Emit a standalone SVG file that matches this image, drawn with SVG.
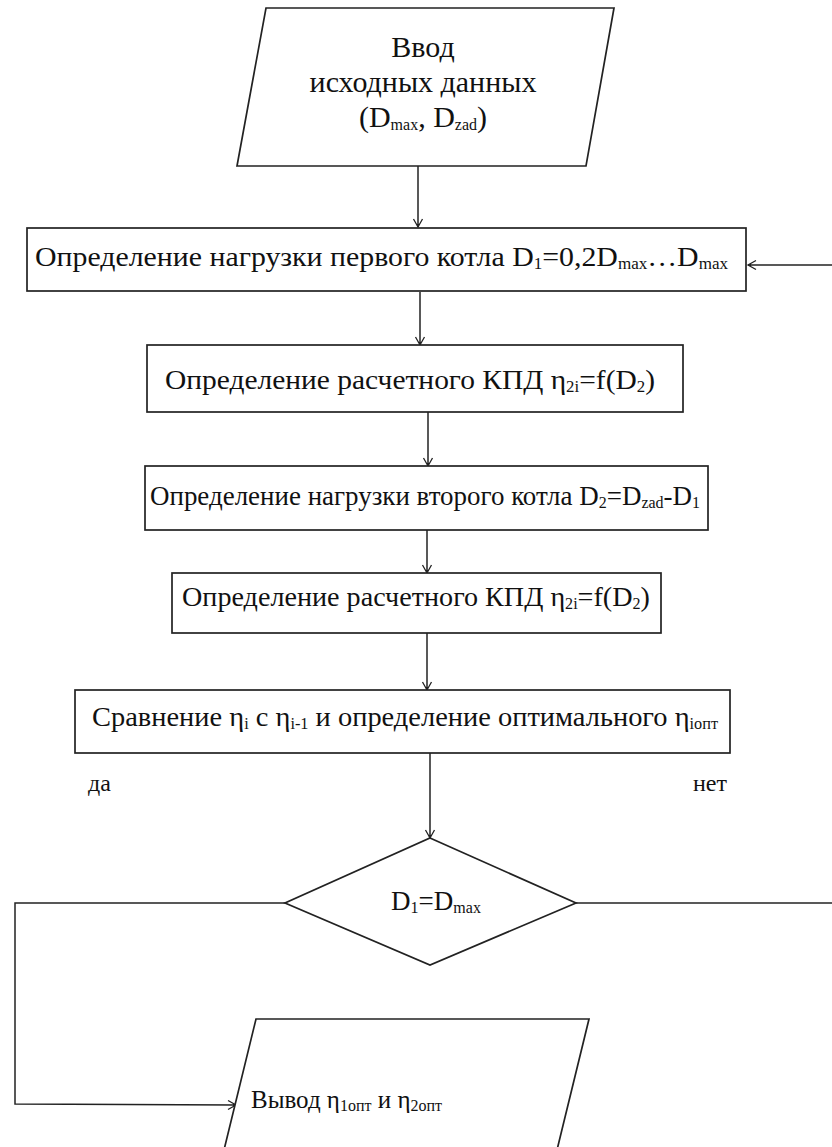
<svg xmlns="http://www.w3.org/2000/svg" width="832" height="1147" viewBox="0 0 832 1147">
<style>
.shape{fill:#fff;stroke:#222;stroke-width:1.7}
.line{fill:none;stroke:#222;stroke-width:1.5}
.t{font-family:'Liberation Serif','Times New Roman',serif;fill:#111;font-size:28px}
.m{text-anchor:middle}
.s{font-size:16px}
.lbl{font-size:24px}
</style>
<defs>
<marker id="arr" viewBox="-10 -6 12 12" refX="0" refY="0" markerWidth="12" markerHeight="12" markerUnits="userSpaceOnUse" orient="auto">
<path d="M-8,-4.5 L0,0 L-8,4.5" fill="none" stroke="#222" stroke-width="1.3"/>
<path d="M-3,-1.2 L0,0 L-3,1.2 Z" fill="#222"/>
</marker>
</defs>
<rect width="832" height="1147" fill="#fff"/>
<g id="connectors">
<line class="line" x1="418" y1="166" x2="418" y2="227" marker-end="url(#arr)"/>
<line class="line" x1="832" y1="265" x2="748" y2="265" marker-end="url(#arr)"/>
<line class="line" x1="420" y1="292" x2="420" y2="345" marker-end="url(#arr)"/>
<line class="line" x1="428" y1="412" x2="428" y2="466" marker-end="url(#arr)"/>
<line class="line" x1="427" y1="530" x2="427" y2="573" marker-end="url(#arr)"/>
<line class="line" x1="427" y1="633" x2="427" y2="690" marker-end="url(#arr)"/>
<line class="line" x1="430" y1="753" x2="430" y2="838" marker-end="url(#arr)"/>
<polyline class="line" points="285,903 15,903 15,1104 236,1105" marker-end="url(#arr)"/>
<line class="line" x1="576" y1="903" x2="832" y2="903"/>
<text class="t lbl" x="88" y="791">да</text>
<text class="t lbl" x="693" y="791">нет</text>
</g>
<g id="input">
<polygon class="shape" points="266,8 614,8 586,166 237,166"/>
<text class="t m" x="423" y="57" style="font-size:30px">Ввод</text>
<text class="t m" x="423" y="92" style="font-size:30px">исходных данных</text>
<text class="t m" x="423" y="127" style="font-size:30px">(D<tspan class="s" dy="3">max</tspan><tspan dy="-3">, D</tspan><tspan class="s" dy="3">zad</tspan><tspan dy="-3">)</tspan></text>
</g>
<g id="load1">
<rect class="shape" x="27" y="228" width="719" height="63"/>
<text class="t" x="35" y="266" textLength="693" lengthAdjust="spacingAndGlyphs">Определение нагрузки первого котла D<tspan class="s" dy="3">1</tspan><tspan dy="-3">=0,2D</tspan><tspan class="s" dy="3">max</tspan><tspan dy="-3">…D</tspan><tspan class="s" dy="3">max</tspan></text>
</g>
<g id="eff1">
<rect class="shape" x="147" y="345" width="536" height="67"/>
<text class="t" x="165" y="389" textLength="490" lengthAdjust="spacingAndGlyphs">Определение расчетного КПД η<tspan class="s" dy="3">2i</tspan><tspan dy="-3">=f(D</tspan><tspan class="s" dy="3">2</tspan><tspan dy="-3">)</tspan></text>
</g>
<g id="load2">
<rect class="shape" x="145" y="466" width="563" height="64"/>
<text class="t" x="150" y="505" style="font-size:27px" textLength="550" lengthAdjust="spacingAndGlyphs">Определение нагрузки второго котла D<tspan class="s" dy="3">2</tspan><tspan dy="-3">=D</tspan><tspan class="s" dy="3">zad</tspan><tspan dy="-3">-D</tspan><tspan class="s" dy="3">1</tspan></text>
</g>
<g id="eff2">
<rect class="shape" x="172" y="573" width="489" height="60"/>
<text class="t" x="182" y="606" textLength="468" lengthAdjust="spacingAndGlyphs">Определение расчетного КПД η<tspan class="s" dy="3">2i</tspan><tspan dy="-3">=f(D</tspan><tspan class="s" dy="3">2</tspan><tspan dy="-3">)</tspan></text>
</g>
<g id="compare">
<rect class="shape" x="75" y="690" width="655" height="63"/>
<text class="t" x="92" y="726" textLength="626" lengthAdjust="spacingAndGlyphs">Сравнение η<tspan class="s" dy="3">i</tspan><tspan dy="-3"> с η</tspan><tspan class="s" dy="3">i-1</tspan><tspan dy="-3"> и определение оптимального  η</tspan><tspan class="s" dy="3">iопт</tspan></text>
</g>
<g id="decision">
<polygon class="shape" points="430,838 576,903 430,965 285,903"/>
<text class="t m" x="436" y="910" style="font-size:27px">D<tspan class="s" dy="3">1</tspan><tspan dy="-3">=D</tspan><tspan class="s" dy="3">max</tspan></text>
</g>
<g id="output">
<polygon class="shape" points="256,1019 589,1019 557,1150 224,1150"/>
<text class="t" x="251" y="1108" style="font-size:25px">Вывод η<tspan class="s" dy="3">1опт</tspan><tspan dy="-3"> и  η</tspan><tspan class="s" dy="3">2опт</tspan></text>
</g>
</svg>
